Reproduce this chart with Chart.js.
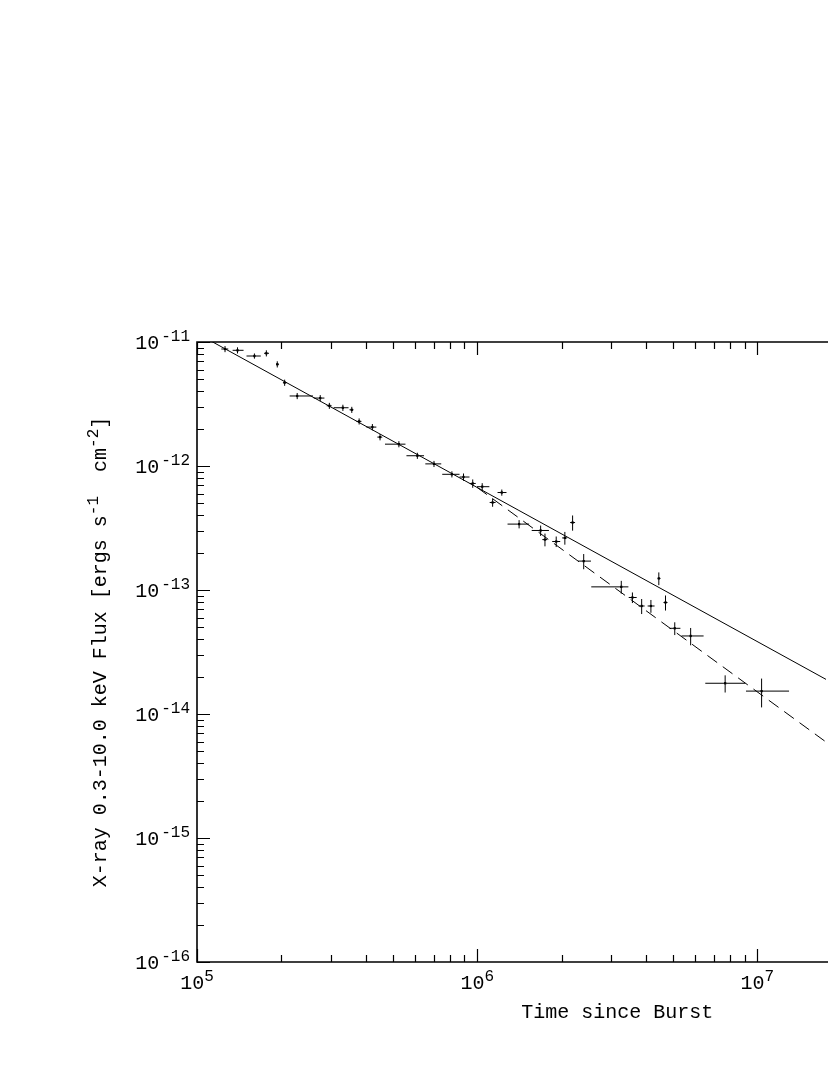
<!DOCTYPE html>
<html><head><meta charset="utf-8">
<script src="https://cdn.jsdelivr.net/npm/chart.js@4/dist/chart.umd.min.js"></script>
<style>html,body{margin:0;padding:0;background:#fff;overflow:hidden}#wrap{width:830px;height:1075px;position:relative}</style>
</head><body><div id="wrap"><canvas id="c" width="830" height="1075"></canvas></div>
<script>
// ---- data (time in s since burst, flux in erg s^-1 cm^-2) ----
const timeSec  = [1.259e5,1.395e5,1.603e5,1.768e5,1.934e5,2.055e5,2.278e5,2.753e5,2.967e5,3.316e5,3.568e5,3.790e5,4.226e5,4.500e5,5.254e5,6.115e5,7.011e5,8.122e5,8.935e5,9.639e5,1.042e6,1.224e6,1.135e6,1.411e6,1.684e6,1.745e6,1.914e6,2.055e6,2.190e6,2.399e6,3.267e6,3.580e6,3.863e6,4.168e6,4.448e6,4.699e6,5.070e6,5.777e6,7.671e6,1.035e7];
const timeLow  = [1.221e5,1.340e5,1.502e5,1.735e5,1.914e5,2.026e5,2.141e5,2.610e5,2.903e5,3.073e5,3.502e5,3.707e5,4.023e5,4.402e5,4.687e5,5.591e5,6.529e5,7.502e5,8.648e5,9.407e5,9.984e5,1.182e6,1.108e6,1.283e6,1.565e6,1.708e6,1.852e6,2.010e6,2.146e6,2.291e6,2.553e6,3.473e6,3.769e6,4.057e6,4.401e6,4.622e6,4.855e6,5.355e6,6.516e6,9.104e6];
const timeHigh = [1.293e5,1.466e5,1.689e5,1.807e5,1.962e5,2.094e5,2.595e5,2.849e5,3.023e5,3.474e5,3.618e5,3.862e5,4.366e5,4.585e5,5.546e5,6.460e5,7.441e5,8.648e5,9.384e5,9.879e5,1.105e6,1.272e6,1.163e6,1.532e6,1.803e6,1.778e6,1.978e6,2.094e6,2.235e6,2.547e6,3.464e6,3.708e6,3.958e6,4.295e6,4.511e6,4.776e6,5.311e6,6.426e6,9.052e6,1.297e7];
const flux     = [8.78e-12,8.57e-12,7.71e-12,8.11e-12,6.61e-12,4.70e-12,3.67e-12,3.53e-12,3.06e-12,2.95e-12,2.84e-12,2.29e-12,2.06e-12,1.71e-12,1.50e-12,1.21e-12,1.04e-12,8.57e-13,8.15e-13,7.23e-13,6.81e-13,6.11e-13,5.08e-13,3.40e-13,3.02e-13,2.55e-13,2.46e-13,2.63e-13,3.50e-13,1.71e-13,1.06e-13,8.70e-14,7.43e-14,7.43e-14,1.24e-13,7.93e-14,4.91e-14,4.26e-14,1.77e-14,1.53e-14];
const fluxErr  = [5.0e-13,4.9e-13,3.7e-13,4.6e-13,3.8e-13,2.7e-13,2.1e-13,2.0e-13,1.7e-13,1.7e-13,1.6e-13,1.3e-13,1.2e-13,1.0e-13,8.5e-14,6.9e-14,5.9e-14,4.9e-14,5.5e-14,5.6e-14,4.6e-14,3.5e-14,3.9e-14,2.6e-14,2.9e-14,3.0e-14,2.4e-14,3.1e-14,4.9e-14,2.4e-14,1.25e-14,8.5e-15,1.03e-14,8.8e-15,1.46e-14,1.1e-14,5.8e-15,6.8e-15,2.8e-15,4.0e-15];
// single power-law model (solid) and broken power-law after 1e6 s (dashed)
const modelT  = [1.0e5, 1.0e8];
const modelF  = [1.174e-11, 2.19e-15];
const brokenT = [1.0e6, 1.0e8];
const brokenF = [6.71e-13, 3.38e-16];
// axes
const xMin = 1e5, xMax = 1.757e7;
const yMin = 1e-16, yMax = 1e-11;
const xTickExponents = [5, 6, 7];
const yTickExponents = [-16, -15, -14, -13, -12, -11];
const xTitle = 'Time since Burst';
const yTitleParts = [['X-ray 0.3-10.0 keV Flux [ergs s', false], ['-1', true], ['  cm', false], ['-2', true], [']', false]];

// ---- build datasets ----
const xErrData = [], yErrData = [], ptData = [];
for (let i = 0; i < timeSec.length; i++) {
  xErrData.push({x: timeLow[i], y: flux[i]}, {x: timeHigh[i], y: flux[i]}, {x: timeHigh[i], y: null});
  yErrData.push({x: timeSec[i], y: flux[i] - fluxErr[i]}, {x: timeSec[i], y: flux[i] + fluxErr[i]}, {x: timeSec[i], y: null});
  ptData.push({x: timeSec[i], y: flux[i]});
}
const modelData = modelT.map((t, i) => ({x: t, y: modelF[i]}));
const brokenData = brokenT.map((t, i) => ({x: t, y: brokenF[i]}));

const MAIN = '20px "Liberation Mono", "DejaVu Sans Mono", monospace';
const SUP = '16px "Liberation Mono", "DejaVu Sans Mono", monospace';

const framePlugin = {
  id: 'frame',
  afterDatasetsDraw(chart) {
    const {ctx, chartArea: a, scales: {x, y}} = chart;
    ctx.save();
    ctx.strokeStyle = '#000';
    ctx.lineWidth = 1.6;
    ctx.beginPath();
    ctx.moveTo(a.right + 2, a.top); ctx.lineTo(a.left, a.top); ctx.lineTo(a.left, a.bottom); ctx.lineTo(a.right + 2, a.bottom);
    ctx.stroke();
    ctx.lineWidth = 1.2;
    ctx.beginPath();
    for (let n = 4; n <= 8; n++) {
      for (let m = 1; m <= 9; m++) {
        const v = m * Math.pow(10, n);
        if (v < xMin * 0.999 || v > xMax) continue;
        const px = Math.round(x.getPixelForValue(v)) + 0.5;
        const len = m === 1 ? 13 : 7;
        ctx.moveTo(px, a.bottom); ctx.lineTo(px, a.bottom - len);
        ctx.moveTo(px, a.top); ctx.lineTo(px, a.top + len);
      }
    }
    for (let n = -17; n <= -11; n++) {
      for (let m = 1; m <= 9; m++) {
        const v = m * Math.pow(10, n);
        if (v < yMin * 0.999 || v > yMax * 1.001) continue;
        const py = Math.round(y.getPixelForValue(v)) + 0.5;
        const len = m === 1 ? 13 : 7;
        ctx.moveTo(a.left, py); ctx.lineTo(a.left + len, py);
      }
    }
    ctx.stroke();

    // tick labels
    ctx.fillStyle = '#000';
    ctx.textBaseline = 'alphabetic';
    xTickExponents.forEach(e => {
      const px = x.getPixelForValue(Math.pow(10, e));
      ctx.font = MAIN; const w1 = ctx.measureText('10').width;
      ctx.font = SUP; const w2 = ctx.measureText(String(e)).width;
      const x0 = px - (w1 + w2) / 2;
      ctx.font = MAIN; ctx.textAlign = 'left'; ctx.fillText('10', x0, a.bottom + 27);
      ctx.font = SUP; ctx.fillText(String(e), x0 + w1, a.bottom + 19);
    });
    yTickExponents.forEach(e => {
      const py = y.getPixelForValue(Math.pow(10, e));
      const s = String(e);
      ctx.font = SUP; const w2 = ctx.measureText(s).width;
      ctx.font = MAIN; const w1 = ctx.measureText('10').width;
      const xr = a.left - 7;
      ctx.textAlign = 'left';
      ctx.font = MAIN; ctx.fillText('10', xr - w1 - w2 - 2, py + 7);
      ctx.font = SUP; ctx.fillText(s, xr - w2, py - 1);
    });

    // x title (centred on the full 1e5..1e8 axis)
    ctx.font = MAIN; ctx.textAlign = 'center';
    ctx.fillText(xTitle, x.getPixelForValue(Math.pow(10, 6.5)), a.bottom + 56);

    // y title, rotated
    ctx.save();
    ctx.translate(a.left - 98, (a.top + a.bottom) / 2);
    ctx.rotate(-Math.PI / 2);
    let total = 0;
    yTitleParts.forEach(([t, sup]) => { ctx.font = sup ? SUP : MAIN; total += ctx.measureText(t).width; });
    let cx = -total / 2;
    ctx.textAlign = 'left';
    yTitleParts.forEach(([t, sup]) => {
      ctx.font = sup ? SUP : MAIN;
      ctx.fillText(t, cx, sup ? -1 : 7);
      cx += ctx.measureText(t).width;
    });
    ctx.restore();
    ctx.restore();
  }
};

new Chart(document.getElementById('c'), {
  type: 'scatter',
  data: {
    datasets: [
      {label: 'xerr', data: xErrData, showLine: true, spanGaps: false, borderColor: '#000', borderWidth: 1, pointRadius: 0, clip: 0},
      {label: 'yerr', data: yErrData, showLine: true, spanGaps: false, borderColor: '#000', borderWidth: 1, pointRadius: 0, clip: 0},
      {label: 'data', data: ptData, showLine: false, pointRadius: 1.6, pointStyle: 'rect', backgroundColor: '#000', borderColor: '#000', borderWidth: 0, clip: 0},
      {label: 'power law', data: modelData, showLine: true, borderColor: '#000', borderWidth: 1, pointRadius: 0, clip: 0},
      {label: 'broken power law', data: brokenData, showLine: true, borderColor: '#000', borderWidth: 1, borderDash: [12, 7], pointRadius: 0, clip: 0}
    ]
  },
  options: {
    responsive: false,
    animation: false,
    devicePixelRatio: 1,
    layout: {padding: {left: 197, top: 342, right: 0, bottom: 113}},
    plugins: {legend: {display: false}, tooltip: {enabled: false}},
    scales: {
      x: {type: 'logarithmic', min: xMin, max: xMax, display: false},
      y: {type: 'logarithmic', min: yMin, max: yMax, display: false}
    }
  },
  plugins: [framePlugin]
});
</script>
</body></html>
